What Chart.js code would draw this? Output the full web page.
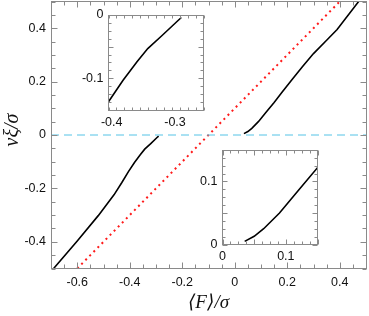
<!DOCTYPE html>
<html><head><meta charset="utf-8">
<script src="https://cdn.jsdelivr.net/npm/chart.js@4/dist/chart.umd.min.js"></script>
<style>
html,body{margin:0;padding:0;background:#fff;}
#wrap{position:relative;width:369px;height:316px;overflow:hidden;background:#fff;}
canvas{position:absolute;}
</style></head><body>
<div id="wrap">
<canvas id="main" width="369" height="316" style="left:0;top:0;width:369px;height:316px"></canvas>
<canvas id="in1" width="140" height="130" style="left:70px;top:3px;width:140px;height:130px"></canvas>
<canvas id="in2" width="135" height="125" style="left:190px;top:140px;width:135px;height:125px"></canvas>
</div>
<script>
// ---- data ----
const leftBranchX  = [-0.69, -0.60, -0.52, -0.46, -0.43, -0.405, -0.382, -0.36, -0.343, -0.32, -0.296, -0.29];
const leftBranchY  = [-0.50, -0.397, -0.302, -0.224, -0.178, -0.137, -0.103, -0.074, -0.053, -0.032, -0.0095, -0.004];
const rightBranchX = [0.035, 0.05, 0.065, 0.09, 0.12, 0.15, 0.18, 0.22, 0.26, 0.30, 0.35, 0.39, 0.472];
const rightBranchY = [0.005, 0.013, 0.025, 0.05, 0.086, 0.122, 0.16, 0.21, 0.258, 0.305, 0.355, 0.395, 0.50];
const diagonalX = [-0.6, 0.4];
const diagonalY = [-0.5, 0.5];
const zeroLineX = [-0.7, 0.5];
const zeroLineY = [0, 0];

const mainXRange = [-0.7, 0.5];
const mainYRange = [-0.5, 0.5];
const mainXTicks = [-0.6, -0.4, -0.2, 0, 0.2, 0.4];
const mainYTicks = [-0.4, -0.2, 0, 0.2, 0.4];

const inset1XRange = [-0.405, -0.255];
const inset1YRange = [-0.15, 0];
const inset1XTicks = [-0.4, -0.3];
const inset1YTicks = [-0.1, 0];

const inset2XRange = [0, 0.15];
const inset2YRange = [0, 0.15];
const inset2XTicks = [0, 0.1];
const inset2YTicks = [0, 0.1];

const xTitle = '\u27E8F\u27E9/\u03C3';
const yTitle = '  \u03BD\u03BE/\u03C3';

// ---- helpers ----
const pts = (xs, ys) => xs.map((x, i) => ({x, y: ys[i]}));
const fmt = v => String(Number(Number(v).toFixed(3)));
const FRAME = '#8a8a8a';
const TICKFONT = {family: "'Liberation Sans', Arial, sans-serif", size: 12.5};

const frameTicks = {
  id: 'frameTicks',
  beforeDatasetsDraw(chart, args, o) {
    if (!o.fill) return;
    const a = chart.chartArea, ctx = chart.ctx;
    ctx.save(); ctx.fillStyle = '#fff';
    ctx.fillRect(a.left, a.top, a.right - a.left, a.bottom - a.top);
    ctx.restore();
  },
  afterDatasetsDraw(chart, args, o) {
    const {ctx, chartArea: a, scales} = chart;
    const xs = scales.x, ys = scales.y;
    const L = Math.floor(a.left) + 0.5, R = Math.floor(a.right) + 0.5;
    const T = Math.floor(a.top) + 0.5, B = Math.floor(a.bottom) + 0.5;
    ctx.save();
    ctx.strokeStyle = FRAME; ctx.lineWidth = 1;
    ctx.strokeRect(L, T, R - L, B - T);
    ctx.beginPath();
    const isMajor = (v, step) => Math.abs(v / step - Math.round(v / step)) < 1e-6;
    let n = Math.round((xs.max - xs.min) / o.minorX);
    for (let i = 0; i <= n; i++) {
      const v = xs.min + i * o.minorX;
      const len = isMajor(v, o.majorX) ? o.majorLen : o.minorLen;
      const p = Math.round(xs.getPixelForValue(v)) + 0.5;
      ctx.moveTo(p, B); ctx.lineTo(p, B - len);
      ctx.moveTo(p, T); ctx.lineTo(p, T + len);
    }
    n = Math.round((ys.max - ys.min) / o.minorY);
    for (let i = 0; i <= n; i++) {
      const v = ys.min + i * o.minorY;
      const len = isMajor(v, o.majorY) ? o.majorLen : o.minorLen;
      const p = Math.round(ys.getPixelForValue(v)) + 0.5;
      ctx.moveTo(L, p); ctx.lineTo(L + len, p);
      ctx.moveTo(R, p); ctx.lineTo(R - len, p);
    }
    ctx.stroke();
    ctx.restore();
  }
};

function scalesCfg(xr, yr, xt, yt, yWidth, xHeight, xPad, yPad, titles) {
  const xs = {
    type: 'linear', position: 'bottom', min: xr[0], max: xr[1],
    grid: {display: false, drawTicks: false}, border: {display: false},
    afterBuildTicks: s => { s.ticks = xt.map(v => ({value: v})); },
    afterFit: s => { s.height = xHeight; s.paddingLeft = 0; s.paddingRight = 0; s.paddingTop = 0; s.paddingBottom = 0; },
    ticks: {padding: xPad, font: TICKFONT, color: '#111', autoSkip: false, maxRotation: 0, callback: v => fmt(v)}
  };
  const ys = {
    type: 'linear', position: 'left', min: yr[0], max: yr[1],
    grid: {display: false, drawTicks: false}, border: {display: false},
    afterBuildTicks: s => { s.ticks = yt.map(v => ({value: v})); },
    afterFit: s => { s.width = yWidth; s.paddingLeft = 0; s.paddingRight = 0; s.paddingTop = 0; s.paddingBottom = 0; },
    ticks: {padding: yPad, font: TICKFONT, color: '#111', autoSkip: false, callback: v => fmt(v)}
  };
  if (titles) {
    xs.title = {display: true, text: xTitle, color: '#111',
      font: {family: "'Liberation Serif', 'DejaVu Serif', serif", size: 19, style: 'italic'}, padding: {top: 0, bottom: 2}};
    ys.title = {display: true, text: yTitle, color: '#111',
      font: {family: "'Liberation Serif', 'DejaVu Serif', serif", size: 20, style: 'italic'}, padding: {top: 1, bottom: 0}};
  }
  return {x: xs, y: ys};
}

const blackLine = {borderColor: '#000', borderWidth: 1.6, pointRadius: 0, showLine: true, fill: false, tension: 0};

new Chart(document.getElementById('main'), {
  type: 'scatter',
  data: {datasets: [
    {data: pts(zeroLineX, zeroLineY), borderColor: '#55c3e6', borderWidth: 1, borderDash: [8, 5], pointRadius: 0, showLine: true},
    {data: pts(diagonalX, diagonalY), borderColor: '#ff1a1a', borderWidth: 2, borderDash: [2, 3.8], pointRadius: 0, showLine: true},
    Object.assign({data: pts(leftBranchX, leftBranchY)}, blackLine),
    Object.assign({data: pts(rightBranchX, rightBranchY)}, blackLine)
  ]},
  options: {
    responsive: false, animation: false, devicePixelRatio: 1,
    layout: {padding: {left: 0, top: 1.5, right: 3, bottom: 0}},
    plugins: {legend: {display: false}, tooltip: {enabled: false},
      frameTicks: {minorX: 0.05, majorX: 0.2, minorY: 0.05, majorY: 0.2, majorLen: 6, minorLen: 4, fill: false}},
    scales: scalesCfg(mainXRange, mainYRange, mainXTicks, mainYTicks, 51, 47.5, 7, 5, true)
  },
  plugins: [frameTicks]
});

new Chart(document.getElementById('in1'), {
  type: 'scatter',
  data: {datasets: [Object.assign({data: pts(leftBranchX, leftBranchY)}, blackLine)]},
  options: {
    responsive: false, animation: false, devicePixelRatio: 1,
    layout: {padding: {left: 0, top: 12, right: 6.5, bottom: 0}},
    plugins: {legend: {display: false}, tooltip: {enabled: false},
      frameTicks: {minorX: 0.0125, majorX: 0.05, minorY: 0.0125, majorY: 0.05, majorLen: 5, minorLen: 3, fill: true}},
    scales: scalesCfg(inset1XRange, inset1YRange, inset1XTicks, inset1YTicks, 38.5, 23, 5, 5, false)
  },
  plugins: [frameTicks]
});

new Chart(document.getElementById('in2'), {
  type: 'scatter',
  data: {datasets: [Object.assign({data: pts(rightBranchX, rightBranchY)}, blackLine)]},
  options: {
    responsive: false, animation: false, devicePixelRatio: 1,
    layout: {padding: {left: 0, top: 10, right: 7.5, bottom: 0}},
    plugins: {legend: {display: false}, tooltip: {enabled: false},
      frameTicks: {minorX: 0.0125, majorX: 0.05, minorY: 0.0125, majorY: 0.05, majorLen: 5, minorLen: 3, fill: true}},
    scales: scalesCfg(inset2XRange, inset2YRange, inset2XTicks, inset2YTicks, 32.5, 20.5, 5, 5, false)
  },
  plugins: [frameTicks]
});
</script>
</body></html>
